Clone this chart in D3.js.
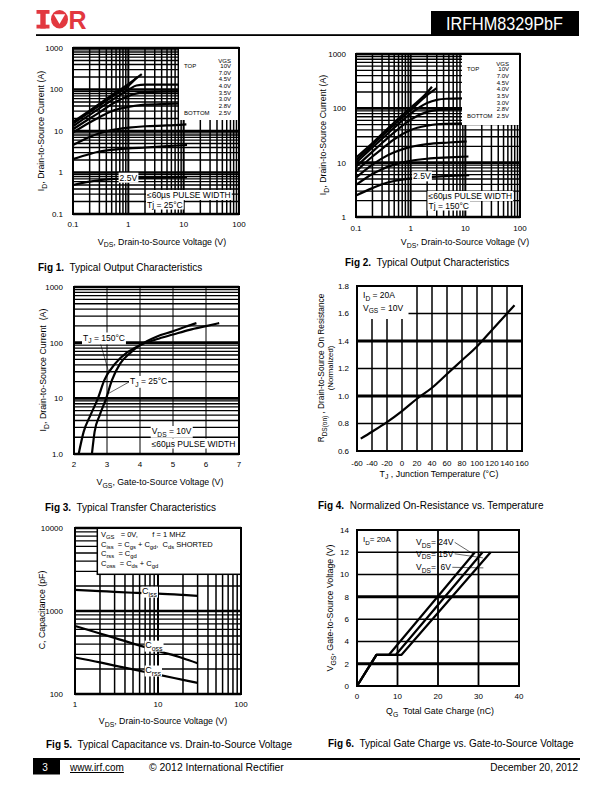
<!DOCTYPE html>
<html>
<head>
<meta charset="utf-8">
<title>IRFHM8329PbF - page 3</title>
<script src="https://cdn.jsdelivr.net/npm/d3@7/dist/d3.min.js"></script>
<style>
  html, body { margin:0; padding:0; background:#fff; }
  svg { display:block; }
  text { font-family: "Liberation Sans", Arial, Helvetica, sans-serif; fill:#000; white-space: pre; }
</style>
</head>
<body>
<svg id="page" width="612" height="792" viewBox="0 0 612 792"></svg>
<script>
// ======================= DATA =======================
// Fig 1 - Typical Output Characteristics, Tj = 25°C   [VDS (V), ID (A)]
const fig1Vgs = ["10V","7.0V","4.5V","4.0V","3.5V","3.0V","2.8V","2.5V"];
const fig1Vgs10 = [[0.1,16.5],[0.2,31],[0.3,45],[0.5,73],[1,135],[1.75,235]];
const fig1Vgs7  = [[0.1,15],[0.2,28.5],[0.3,41],[0.5,66],[1,122],[1.45,200]];
const fig1Vgs45 = [[0.1,13],[0.2,24.5],[0.3,35],[0.5,55],[1,98],[1.4,125],[2,131],[5,131],[10,131]];
const fig1Vgs40 = [[0.1,11],[0.2,20],[0.3,28],[0.5,44],[1,70],[1.5,82],[2,86],[5,89],[10.5,90]];
const fig1Vgs35 = [[0.1,9.2],[0.2,16],[0.3,21.5],[0.5,30],[1,38],[2,43],[5,45],[10.5,46]];
const fig1Vgs30 = [[0.1,4.6],[0.2,7.2],[0.3,8.8],[0.5,10.5],[1,12],[2,13],[5,13.6],[11.2,14.5]];
const fig1Vgs28 = [[0.1,2.1],[0.2,2.8],[0.3,3.2],[0.5,3.5],[1,3.8],[2,4.0],[5,4.3],[11.5,4.6]];
const fig1Vgs25 = [[0.1,0.5],[0.2,0.6],[0.3,0.65],[0.5,0.69],[1,0.72],[2,0.74],[5,0.75],[11.5,0.77]];
const fig1XTicks = [0.1,1,10,100];      const fig1XTickText = ["0.1","1","10","100"];
const fig1YTicks = [0.1,1,10,100,1000]; const fig1YTickText = ["0.1","1","10","100","1000"];

// Fig 2 - Typical Output Characteristics, Tj = 150°C   [VDS (V), ID (A)]
const fig2Vgs = ["10V","7.0V","4.5V","4.0V","3.5V","3.0V","2.8V","2.5V"];
const fig2Vgs10 = [[0.1,12.4],[0.2,23],[0.3,34],[0.5,55],[1,103],[2,195],[2.45,250]];
const fig2Vgs7  = [[0.1,11.1],[0.2,21],[0.3,31],[0.5,50],[1,93],[2,175],[3,235]];
const fig2Vgs45 = [[0.1,9.9],[0.2,19],[0.3,27.5],[0.5,44],[1,80],[2,125],[3,143],[4.5,150],[9.3,152]];
const fig2Vgs40 = [[0.1,8.4],[0.2,16],[0.3,23],[0.5,36],[1,62],[2,86],[3,93],[5,96],[9.5,97]];
const fig2Vgs35 = [[0.1,6.9],[0.2,13],[0.3,18],[0.5,27],[1,40],[2,48],[3,51],[5,52],[10,53]];
const fig2Vgs30 = [[0.1,5.3],[0.2,9.2],[0.3,12],[0.5,15.5],[1,19.5],[2,22],[5,23.5],[10.6,24.5]];
const fig2Vgs28 = [[0.1,3.9],[0.2,6.2],[0.3,7.6],[0.5,9.2],[1,10.8],[2,11.8],[5,12.5],[11.4,13]];
const fig2Vgs25 = [[0.1,2.5],[0.2,3.4],[0.3,4],[0.5,4.6],[1,5.1],[2,5.4],[5,5.7],[11.8,5.9]];
const fig2XTicks = [0.1,1,10,100];  const fig2XTickText = ["0.1","1","10","100"];
const fig2YTicks = [1,10,100,1000]; const fig2YTickText = ["1","10","100","1000"];

// Fig 3 - Typical Transfer Characteristics   [VGS (V), ID (A)]
const fig3Tj25  = [[2.543,1],[2.624,2.5],[2.78,5],[2.976,10],[3.147,21],[3.398,42],[3.7,65],[4.0,90],[4.5,128],[5.0,160],[5.4,195],[5.71,224]];
const fig3Tj150 = [[2.141,1],[2.292,2.5],[2.5,5],[2.725,10],[2.916,21],[3.247,42],[3.6,66],[4.0,90],[4.5,115],[5.0,140],[5.5,170],[6.0,198],[6.4,224]];
const fig3XTicks = [2,3,4,5,6,7];   const fig3XTickText = ["2","3","4","5","6","7"];
const fig3YTicks = [1,10,100,1000]; const fig3YTickText = ["1.0","10","100","1000"];

// Fig 4 - Normalized On-Resistance vs Temperature   [TJ (°C), RDS(on) normalized]
const fig4Temp = [-55,-40,-20,0,20,40,60,80,100,120,140,150];
const fig4Rds  = [0.69,0.74,0.81,0.89,0.98,1.06,1.16,1.26,1.36,1.48,1.60,1.66];
const fig4XTicks = [-60,-40,-20,0,20,40,60,80,100,120,140,160];
const fig4YTicks = [0.6,0.8,1.0,1.2,1.4,1.6,1.8];
const fig4YTickText = ["0.6","0.8","1.0","1.2","1.4","1.6","1.8"];

// Fig 5 - Typical Capacitance vs VDS   [VDS (V), C (pF)]
const fig5Vds  = [1,2,3,5,7,10,20,30];
const fig5Ciss = [1800,1740,1700,1660,1640,1620,1560,1520];
const fig5Coss = [660,535,475,405,367,330,270,235];
const fig5Crss = [275,240,220,198,184,171,148,136];
const fig5XTicks = [1,10,100];        const fig5XTickText = ["1","10","100"];
const fig5YTicks = [100,1000,10000];  const fig5YTickText = ["100","1000","10000"];

// Fig 6 - Typical Gate Charge vs VGS   [QG (nC), VGS (V)]
const fig6Vds24 = [[0,0],[4.8,2.8],[7.9,2.8],[29.1,12]];
const fig6Vds15 = [[0,0],[4.8,2.8],[9.6,2.8],[31.0,12]];
const fig6Vds6  = [[0,0],[4.8,2.8],[11.0,2.8],[33.0,12]];
const fig6XTicks = [0,10,20,30,40];
const fig6YTicks = [0,2,4,6,8,10,12,14];

// ======================= HELPERS =======================
const svg = d3.select('#page');
svg.append('rect').attr('width',612).attr('height',792).attr('fill','#fff');
const CW = 2.2;   // curve stroke width
const TF = 8.8;   // axis-title font size

function isDecade(v){ const l = Math.log10(v); return Math.abs(l - Math.round(l)) < 1e-9; }
function makePanel(box, xs, ys){
  return { g: svg.append('g'), L:box[0], T:box[1], R:box[2], B:box[3],
           x: xs.range([box[0], box[2]]), y: ys.range([box[3], box[1]]) };
}
function gridV(P, vals, w){
  P.g.append('g').selectAll('line').data(vals).join('line')
    .attr('x1', d => P.x(d)).attr('x2', d => P.x(d)).attr('y1', P.T).attr('y2', P.B)
    .attr('stroke', '#000').attr('stroke-width', w);
}
function gridH(P, vals, w){
  P.g.append('g').selectAll('line').data(vals).join('line')
    .attr('y1', d => P.y(d)).attr('y2', d => P.y(d)).attr('x1', P.L).attr('x2', P.R)
    .attr('stroke', '#000').attr('stroke-width', w);
}
function frame(P, w){
  P.g.append('rect').attr('x', P.L).attr('y', P.T).attr('width', P.R - P.L).attr('height', P.B - P.T)
    .attr('fill', 'none').attr('stroke', '#000').attr('stroke-width', w);
}
function plotCurve(P, data, w, ctype){
  P.g.append('path').datum(data)
    .attr('d', d3.line().x(d => P.x(d[0])).y(d => P.y(d[1])).curve(ctype || d3.curveMonotoneX))
    .attr('fill', 'none').attr('stroke', '#000').attr('stroke-width', w).attr('stroke-linejoin', 'round');
}
function xLabels(P, vals, labels, off){
  P.g.append('g').selectAll('text').data(vals).join('text')
    .attr('x', d => P.x(d)).attr('y', P.B + off).attr('text-anchor', 'middle').attr('font-size', 8)
    .text((d, i) => labels[i]);
}
function yLabels(P, vals, labels, off){
  P.g.append('g').selectAll('text').data(vals).join('text')
    .attr('x', P.L - off).attr('y', d => P.y(d) + 2.9).attr('text-anchor', 'end').attr('font-size', 8)
    .text((d, i) => labels[i]);
}
function rich(parent, x, y, parts, fs, anchor, transform){
  const t = parent.append('text').attr('x', x).attr('y', y).attr('font-size', fs)
    .attr('text-anchor', anchor || 'start');
  if (transform) t.attr('transform', transform);
  let cur = 0;
  parts.forEach(p => {
    const txt = p[0], kind = p[1] || '';
    const s = t.append('tspan').text(txt);
    const target = kind === 'sub' ? fs * 0.33 : 0;
    if (target !== cur) s.attr('dy', target - cur);
    cur = target;
    if (kind === 'sub') s.attr('font-size', fs * 0.78);
    if (kind === 'bold') s.attr('font-weight', 'bold');
  });
  return t;
}
function whiteBg(parent, t, px, py){
  const b = t.node().getBBox();
  parent.insert('rect', () => t.node())
    .attr('x', b.x - px).attr('y', b.y - py).attr('width', b.width + 2 * px).attr('height', b.height + 2 * py)
    .attr('fill', '#fff');
}
function rotTitle(cx, cy, parts, fs){
  return rich(svg, 0, 0, parts, fs, 'middle', `translate(${cx + fs * 0.36},${cy}) rotate(-90)`);
}
function caption(x, y, num, txt){
  rich(svg, x, y, [["Fig " + num + ".", "bold"], ["  " + txt]], 10, 'start');
}
function vgsLegend(P, names, box, xTop, xVal, yHead, y0, step){
  P.g.append('rect').attr('x', box[0]).attr('y', box[1]).attr('width', box[2] - box[0]).attr('height', box[3] - box[1]).attr('fill', '#fff');
  const lg = P.g.append('g').attr('font-size', 6);
  lg.append('text').attr('x', xVal).attr('y', yHead + 2).attr('text-anchor', 'end').attr('font-size', 6).text('VGS');
  lg.append('text').attr('x', xTop).attr('y', y0 + 2).attr('font-size', 6).text('TOP');
  lg.append('text').attr('x', xTop).attr('y', y0 + step * (names.length - 1) + 2).attr('font-size', 6).text('BOTTOM');
  lg.selectAll('text.v').data(names).join('text').attr('class', 'v')
    .attr('x', xVal).attr('y', (d, i) => y0 + step * i + 2).attr('text-anchor', 'end').attr('font-size', 6).text(d => d);
}

// ======================= HEADER =======================
const red = '#e2383f';
svg.append('rect').attr('x', 36.5).attr('y', 10).attr('width', 13).attr('height', 3.8).attr('fill', red);
svg.append('rect').attr('x', 40.3).attr('y', 10).attr('width', 5.4).attr('height', 18.5).attr('fill', red);
svg.append('rect').attr('x', 36.5).attr('y', 24.7).attr('width', 13).attr('height', 3.8).attr('fill', red);
svg.append('ellipse').attr('cx', 59.5).attr('cy', 19.3).attr('rx', 8.5).attr('ry', 9.2).attr('fill', red);
svg.append('path').attr('d', 'M53.8,14.2 L65.2,14.2 L59.5,24 Z').attr('fill', '#fff');
svg.append('text').attr('x', 68.5).attr('y', 28.5).attr('font-size', 25).attr('font-weight', 'bold')
  .style('fill', red).text('R');
svg.append('rect').attr('x', 36).attr('y', 34.2).attr('width', 543).attr('height', 1.8).attr('fill', '#000');
svg.append('rect').attr('x', 431).attr('y', 11).attr('width', 148).attr('height', 25).attr('fill', '#000');
svg.append('text').attr('x', 446).attr('y', 30).attr('font-size', 19)
  .attr('textLength', 117).attr('lengthAdjust', 'spacingAndGlyphs')
  .style('fill', '#fff').style('font-family', '"Liberation Sans Narrow","Liberation Sans",Arial,sans-serif')
  .text('IRFHM8329PbF');

// ======================= FIG 1 =======================
const P1 = makePanel([73, 48, 239, 214], d3.scaleLog().domain([0.1, 100]), d3.scaleLog().domain([0.1, 1000]));
gridV(P1, P1.x.ticks(), d => isDecade(d) ? 2 : 1.5);
gridH(P1, P1.y.ticks(), d => isDecade(d) ? 2.6 : 1.3);
[fig1Vgs10, fig1Vgs7, fig1Vgs45, fig1Vgs40, fig1Vgs35, fig1Vgs30, fig1Vgs28, fig1Vgs25].forEach(c => plotCurve(P1, c, CW));
vgsLegend(P1, fig1Vgs, [179, 48, 239, 120], 184, 231, 60.7, 66, 6.67);
{
  const t = P1.g.append('text').attr('x', P1.x(1.0)).attr('y', P1.y(0.75) + 3).attr('text-anchor', 'middle').attr('font-size', 8.5).text('2.5V');
  whiteBg(P1.g, t, 1, 0);
  const a = P1.g.append('text').attr('x', 147).attr('y', 198).attr('font-size', 8.5).text('\u226460\u00b5s PULSE WIDTH');
  whiteBg(P1.g, a, 1, 0);
  const b = P1.g.append('text').attr('x', 147).attr('y', 207.5).attr('font-size', 8.5).text('Tj = 25\u00b0C');
  whiteBg(P1.g, b, 1, 0);
}
frame(P1, 2);
xLabels(P1, fig1XTicks, fig1XTickText, 13);
yLabels(P1, fig1YTicks, fig1YTickText, 10);
rich(svg, 162, 244.5, [["V"], ["DS", "sub"], [", Drain-to-Source Voltage (V)"]], TF, 'middle');
rotTitle(41, 131, [["I"], ["D", "sub"], [", Drain-to-Source Current (A)"]], TF);
caption(38, 271, 1, "Typical Output Characteristics");

// ======================= FIG 2 =======================
const P2 = makePanel([356, 54, 520, 217], d3.scaleLog().domain([0.1, 100]), d3.scaleLog().domain([1, 1000]));
gridV(P2, P2.x.ticks(), d => isDecade(d) ? 2 : 1.5);
gridH(P2, P2.y.ticks(), d => isDecade(d) ? 2.6 : 1.3);
[fig2Vgs10, fig2Vgs7, fig2Vgs45, fig2Vgs40, fig2Vgs35, fig2Vgs30, fig2Vgs28, fig2Vgs25].forEach(c => plotCurve(P2, c, CW));
vgsLegend(P2, fig2Vgs, [462, 54, 520, 125], 467, 509, 64, 69.3, 6.67);
{
  const t = P2.g.append('text').attr('x', P2.x(1.6)).attr('y', P2.y(5.6) + 3).attr('text-anchor', 'middle').attr('font-size', 8.5).text('2.5V');
  whiteBg(P2.g, t, 1, 0);
  const a = P2.g.append('text').attr('x', 428.5).attr('y', 199).attr('font-size', 8.5).text('\u226460\u00b5s PULSE WIDTH');
  whiteBg(P2.g, a, 1, 0);
  const b = P2.g.append('text').attr('x', 428.5).attr('y', 208.5).attr('font-size', 8.5).text('Tj = 150\u00b0C');
  whiteBg(P2.g, b, 1, 0);
}
frame(P2, 2);
xLabels(P2, fig2XTicks, fig2XTickText, 14);
yLabels(P2, fig2YTicks, fig2YTickText, 10);
rich(svg, 465, 245, [["V"], ["DS", "sub"], [", Drain-to-Source Voltage (V)"]], TF, 'middle');
rotTitle(323, 135, [["I"], ["D", "sub"], [", Drain-to-Source Current (A)"]], TF);
caption(345, 266, 2, "Typical Output Characteristics");

// ======================= FIG 3 =======================
const P3 = makePanel([74, 287, 239, 454], d3.scaleLinear().domain([2, 7]), d3.scaleLog().domain([1, 1000]));
gridV(P3, fig3XTicks.slice(1, -1), 1);
gridH(P3, P3.y.ticks(), d => isDecade(d) ? 2.6 : 1.3);
plotCurve(P3, fig3Tj25, CW);
plotCurve(P3, fig3Tj150, CW);
{
  P3.g.append('line').attr('x1', 100).attr('y1', 342).attr('x2', P3.x(3.05)).attr('y2', P3.y(30)).attr('stroke', '#000').attr('stroke-width', 0.6);
  P3.g.append('line').attr('x1', 129).attr('y1', 382).attr('x2', P3.x(3.02)).attr('y2', P3.y(12)).attr('stroke', '#000').attr('stroke-width', 0.6);
  const t1 = rich(P3.g, 83, 340.5, [["T"], ["J", "sub"], [" = 150\u00b0C"]], 8.5, 'start');
  whiteBg(P3.g, t1, 1, 0);
  const t2 = rich(P3.g, 130, 384, [["T"], ["J", "sub"], [" = 25\u00b0C"]], 8.5, 'start');
  whiteBg(P3.g, t2, 1, 0);
  const t3 = rich(P3.g, 151.7, 434, [["V"], ["DS", "sub"], [" = 10V"]], 8.5, 'start');
  whiteBg(P3.g, t3, 1, 0);
  const t4 = P3.g.append('text').attr('x', 151.7).attr('y', 446.5).attr('font-size', 8.5).text('\u226460\u00b5s PULSE WIDTH');
  whiteBg(P3.g, t4, 1, 0);
}
frame(P3, 2);
xLabels(P3, fig3XTicks, fig3XTickText, 13);
yLabels(P3, fig3YTicks, fig3YTickText, 11);
rich(svg, 160, 485, [["V"], ["GS", "sub"], [", Gate-to-Source Voltage (V)"]], TF, 'middle');
rotTitle(43, 370, [["I"], ["D", "sub"], [", Drain-to-Source Current  (A)"]], TF);
caption(45, 511, 3, "Typical Transfer Characteristics");

// ======================= FIG 4 =======================
const P4 = makePanel([357, 286, 522, 451], d3.scaleLinear().domain([-60, 160]), d3.scaleLinear().domain([0.6, 1.8]));
gridV(P4, fig4XTicks.slice(1, -1), 1.5);
gridH(P4, fig4YTicks.slice(1, -1), d => (Math.abs(d - 1.0) < 1e-9 || Math.abs(d - 1.4) < 1e-9) ? 3 : 1.5);
P4.g.append('rect').attr('x', P4.L).attr('y', P4.T).attr('width', 408.5 - P4.L).attr('height', 319 - P4.T).attr('fill', '#fff');
plotCurve(P4, fig4Temp.map((t, i) => [t, fig4Rds[i]]), CW);
rich(P4.g, 363, 298, [["I"], ["D", "sub"], [" = 20A"]], 8.5, 'start');
rich(P4.g, 363, 310.5, [["V"], ["GS", "sub"], [" = 10V"]], 8.5, 'start');
frame(P4, 2);
xLabels(P4, fig4XTicks, fig4XTicks.map(String), 15);
yLabels(P4, fig4YTicks, fig4YTickText, 8);
rich(svg, 439, 476.5, [["T"], ["J", "sub"], [" , Junction Temperature (\u00b0C)"]], TF, 'middle');
rotTitle(321, 368, [["R"], ["DS(on)", "sub"], [" , Drain-to-Source On Resistance"]], 8.3);
rotTitle(330, 368, [["(Normalized)"]], 7.8);
caption(318, 509, 4, "Normalized On-Resistance vs. Temperature");

// ======================= FIG 5 =======================
const P5 = makePanel([75, 528, 241, 694], d3.scaleLog().domain([1, 100]), d3.scaleLog().domain([100, 10000]));
gridV(P5, P5.x.ticks(), d => isDecade(d) ? 2 : 1.5);
gridH(P5, P5.y.ticks(), d => isDecade(d) ? 2.6 : 1.3);
plotCurve(P5, fig5Vds.map((v, i) => [v, fig5Ciss[i]]), CW);
plotCurve(P5, fig5Vds.map((v, i) => [v, fig5Coss[i]]), CW);
plotCurve(P5, fig5Vds.map((v, i) => [v, fig5Crss[i]]), CW);
P5.g.append('rect').attr('x', 97.3).attr('y', P5.T).attr('width', P5.R - 97.3).attr('height', 574.3 - P5.T)
  .attr('fill', '#fff').attr('stroke', '#000').attr('stroke-width', 1.5);
{
  const lf = 7.5;
  rich(P5.g, 101, 537, [["V"], ["GS", "sub"], ["   = 0V,       f = 1 MHZ"]], lf);
  rich(P5.g, 101, 546.5, [["C"], ["iss", "sub"], ["  = C"], ["gs", "sub"], [" + C"], ["gd", "sub"], [",  C"], ["ds", "sub"], [" SHORTED"]], lf);
  rich(P5.g, 101, 556, [["C"], ["rss", "sub"], ["  = C"], ["gd", "sub"]], lf);
  rich(P5.g, 101, 565.5, [["C"], ["oss", "sub"], ["  = C"], ["ds", "sub"], [" + C"], ["gd", "sub"]], lf);
  const labs = [["iss", 6.4, 1640], ["oss", 7, 367], ["rss", 7, 184]];
  labs.forEach(l => {
    const t = rich(P5.g, P5.x(l[1]), P5.y(l[2]) + 1, [["C"], [l[0], "sub"]], 9, 'start');
    whiteBg(P5.g, t, 0.5, -0.5);
  });
}
frame(P5, 2);
xLabels(P5, fig5XTicks, fig5XTickText, 13);
yLabels(P5, fig5YTicks, fig5YTickText, 12);
rich(svg, 163, 724, [["V"], ["DS", "sub"], [", Drain-to-Source Voltage (V)"]], TF, 'middle');
rotTitle(42, 610, [["C, Capacitance (pF)"]], TF);
caption(46, 748, 5, "Typical Capacitance vs. Drain-to-Source Voltage");

// ======================= FIG 6 =======================
const P6 = makePanel([357, 530, 519, 686], d3.scaleLinear().domain([0, 40]), d3.scaleLinear().domain([0, 14]));
gridV(P6, fig6XTicks.slice(1, -1), 1.8);
gridH(P6, fig6YTicks.slice(1, -1), d => (d === 2 || d === 8) ? 3 : 1.5);
[fig6Vds24, fig6Vds15, fig6Vds6].forEach(c => plotCurve(P6, c, CW, d3.curveLinear));
{
  rich(P6.g, 363, 542, [["I"], ["D", "sub"], ["= 20A"]], 8);
  const l24 = rich(P6.g, 416, 545, [["V"], ["DS", "sub"], ["= 24V"]], 8.5);
  const l15 = rich(P6.g, 416, 556.5, [["V"], ["DS", "sub"], ["= 15V"]], 8.5);
  const l6  = rich(P6.g, 416, 570, [["V"], ["DS", "sub"], ["=  6V"]], 8.5);
  const leaders = [[l24, 28.9, 11.8], [l15, 31.1, 11.5], [l6, 31.2, 10.6]];
  leaders.forEach(d => {
    const b = d[0].node().getBBox();
    P6.g.append('line').attr('x1', b.x + b.width + 1).attr('y1', b.y + b.height * 0.45)
      .attr('x2', P6.x(d[1])).attr('y2', P6.y(d[2])).attr('stroke', '#000').attr('stroke-width', 0.6);
  });
}
frame(P6, 2);
xLabels(P6, fig6XTicks, fig6XTicks.map(String), 13);
yLabels(P6, fig6YTicks, fig6YTicks.map(String), 8);
rich(svg, 440, 714, [["Q"], ["G", "sub"], ["  Total Gate Charge (nC)"]], TF, 'middle');
rotTitle(330, 608, [["V"], ["GS", "sub"], [", Gate-to-Source Voltage (V)"]], TF);
caption(328, 747, 6, "Typical Gate Charge vs. Gate-to-Source Voltage");

// ======================= FOOTER =======================
svg.append('rect').attr('x', 33).attr('y', 758).attr('width', 547).attr('height', 2).attr('fill', '#000');
svg.append('rect').attr('x', 33).attr('y', 759).attr('width', 27).attr('height', 15.5).attr('fill', '#000');
svg.append('text').attr('x', 45).attr('y', 771).attr('text-anchor', 'middle').attr('font-size', 10).style('fill', '#fff').text('3');
svg.append('text').attr('x', 70).attr('y', 771).attr('font-size', 10).attr('text-decoration', 'underline').text('www.irf.com');
svg.append('text').attr('x', 149).attr('y', 771).attr('font-size', 10.4).text('\u00a9 2012 International Rectifier');
svg.append('text').attr('x', 578).attr('y', 771).attr('text-anchor', 'end').attr('font-size', 10).text('December 20, 2012');
</script>
</body>
</html>
